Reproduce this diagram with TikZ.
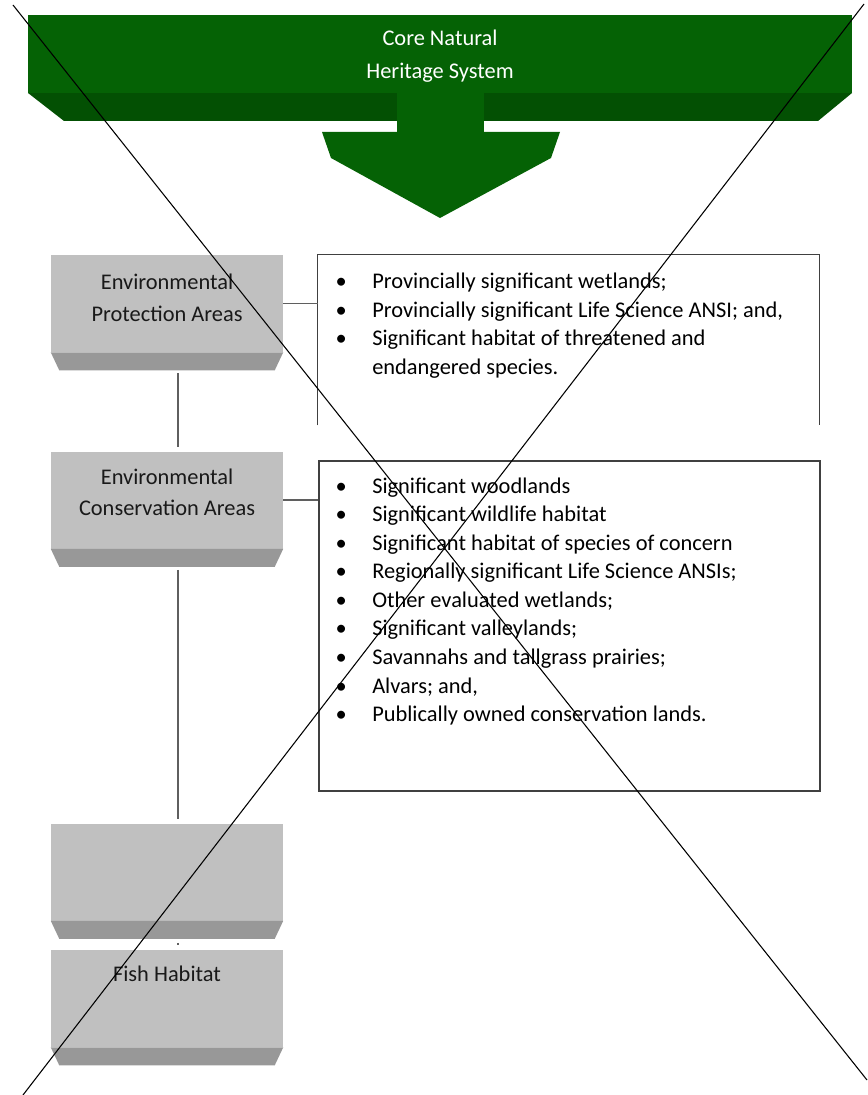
\documentclass[tikz,border=0pt]{standalone}
\usepackage{fontspec}
\setmainfont{Carlito}
\usetikzlibrary{positioning}

\definecolor{coregreen}{RGB}{5,98,5}
\definecolor{coreshade}{RGB}{3,80,3}
\definecolor{tierfront}{RGB}{192,192,192}
\definecolor{tiershade}{RGB}{152,152,152}
\definecolor{linkgrey}{RGB}{95,95,95}

\newcommand{\itembul}{\makebox[46.5pt][c]{\textbullet}}

\tikzset{
  corebar/.style={rectangle, fill=coregreen, text=white, align=center, inner sep=0pt,
    minimum width=618pt, minimum height=58.5pt, font=\fontsize{16.8pt}{24.75pt}\selectfont},
  tierbox/.style={rectangle, fill=tierfront, inner sep=0pt, minimum width=174pt, minimum height=72.75pt},
  tierlabel/.style={align=center, inner sep=0pt, text=black!90, font=\fontsize{16.8pt}{23.6pt}\selectfont},
  listbox/.style={rectangle, inner sep=0pt, minimum width=375.75pt},
  listtext/.style={align=left, inner sep=0pt, anchor=north west, text=black,
    font=\fontsize{16.8pt}{21.4pt}\selectfont},
  tierlink/.style={draw=linkgrey, line width=1.1pt},
  listedge/.style={draw=black!75, line width=1.1pt},
  crossline/.style={line width=.8pt}
}

\begin{document}
\begin{tikzpicture}[x=0.75pt, y=-0.75pt]
\useasboundingbox (0,0) rectangle (867,1095);

% core banner and arrow
\fill[coreshade] (28,93) -- (852,93) -- (818,121) -- (64,121) -- cycle;
\node[corebar] (core) at (440,54) {\rule{0pt}{15pt}Core Natural\\Heritage System};
\fill[coregreen] (397,93) rectangle (484,132);
\fill[coregreen] (322,132) -- (560,132) -- (551,158) -- (440,218) -- (331,158) -- cycle;

% tiers
\node[tierbox] (epa) at (167,303.5) {};
\node[tierbox] (eca) at (167,500) {};
\node[tierbox] (unk) at (167,872) {};
\node[tierbox] (fish) at (167,998.5) {};

\fill[tiershade] (epa.south west) -- (epa.south east) -- ++(-8.5,18) -- ([shift={(8.5,18)}]epa.south west) -- cycle;
\fill[tiershade] (eca.south west) -- (eca.south east) -- ++(-8.5,18) -- ([shift={(8.5,18)}]eca.south west) -- cycle;
\fill[tiershade] (unk.south west) -- (unk.south east) -- ++(-8.5,18) -- ([shift={(8.5,18)}]unk.south west) -- cycle;
\fill[tiershade] (fish.south west) -- (fish.south east) -- ++(-8.5,18) -- ([shift={(8.5,18)}]fish.south west) -- cycle;

\node[tierlabel, below=14.25pt of epa.north] (epatext) {Environmental\\Protection Areas};
\node[tierlabel, below=12.75pt of eca.north] (ecatext) {Environmental\\Conservation Areas};
\node[tierlabel, below=12pt of fish.north] (fishtext) {Fish Habitat};

% lists
\node[listbox, minimum height=127.5pt] (pal) at (568.5,340) {};
\draw[listedge] (pal.south west) -- (pal.north west) -- (pal.north east) -- (pal.south east);
\node[listbox, listedge, minimum height=247.5pt] (cal) at (569.5,626) {};

\node[listtext] (paltext) at (310,273) {\itembul Provincially significant wetlands;\\
\itembul Provincially significant Life Science ANSI; and,\\
\itembul Significant habitat of threatened and\\
\hspace*{46.5pt}endangered species.};

\node[listtext] (caltext) at (310,477.5) {\itembul Significant woodlands\\
\itembul Significant wildlife habitat\\
\itembul Significant habitat of species of concern\\
\itembul Regionally significant Life Science ANSIs;\\
\itembul Other evaluated wetlands;\\
\itembul Significant valleylands;\\
\itembul Savannahs and tallgrass prairies;\\
\itembul Alvars; and,\\
\itembul Publically owned conservation lands.};

% links
\draw[tierlink] (epa.east) -- (epa.east -| pal.west);
\draw[tierlink] (eca.east) -- (eca.east -| cal.west);
\draw[tierlink] ([shift={(11,21)}]epa.south) -- ([shift={(11,-4)}]eca.north);
\draw[tierlink] ([shift={(11,21)}]eca.south) -- ([shift={(11,-4)}]unk.north);
\draw[tierlink] ([shift={(11,22)}]unk.south) -- ([shift={(11,-5)}]fish.north);

% cross
\draw[crossline] (13,5) -- (867,1080);
\draw[crossline] (864,4) -- (23,1095);
\end{tikzpicture}
\end{document}
